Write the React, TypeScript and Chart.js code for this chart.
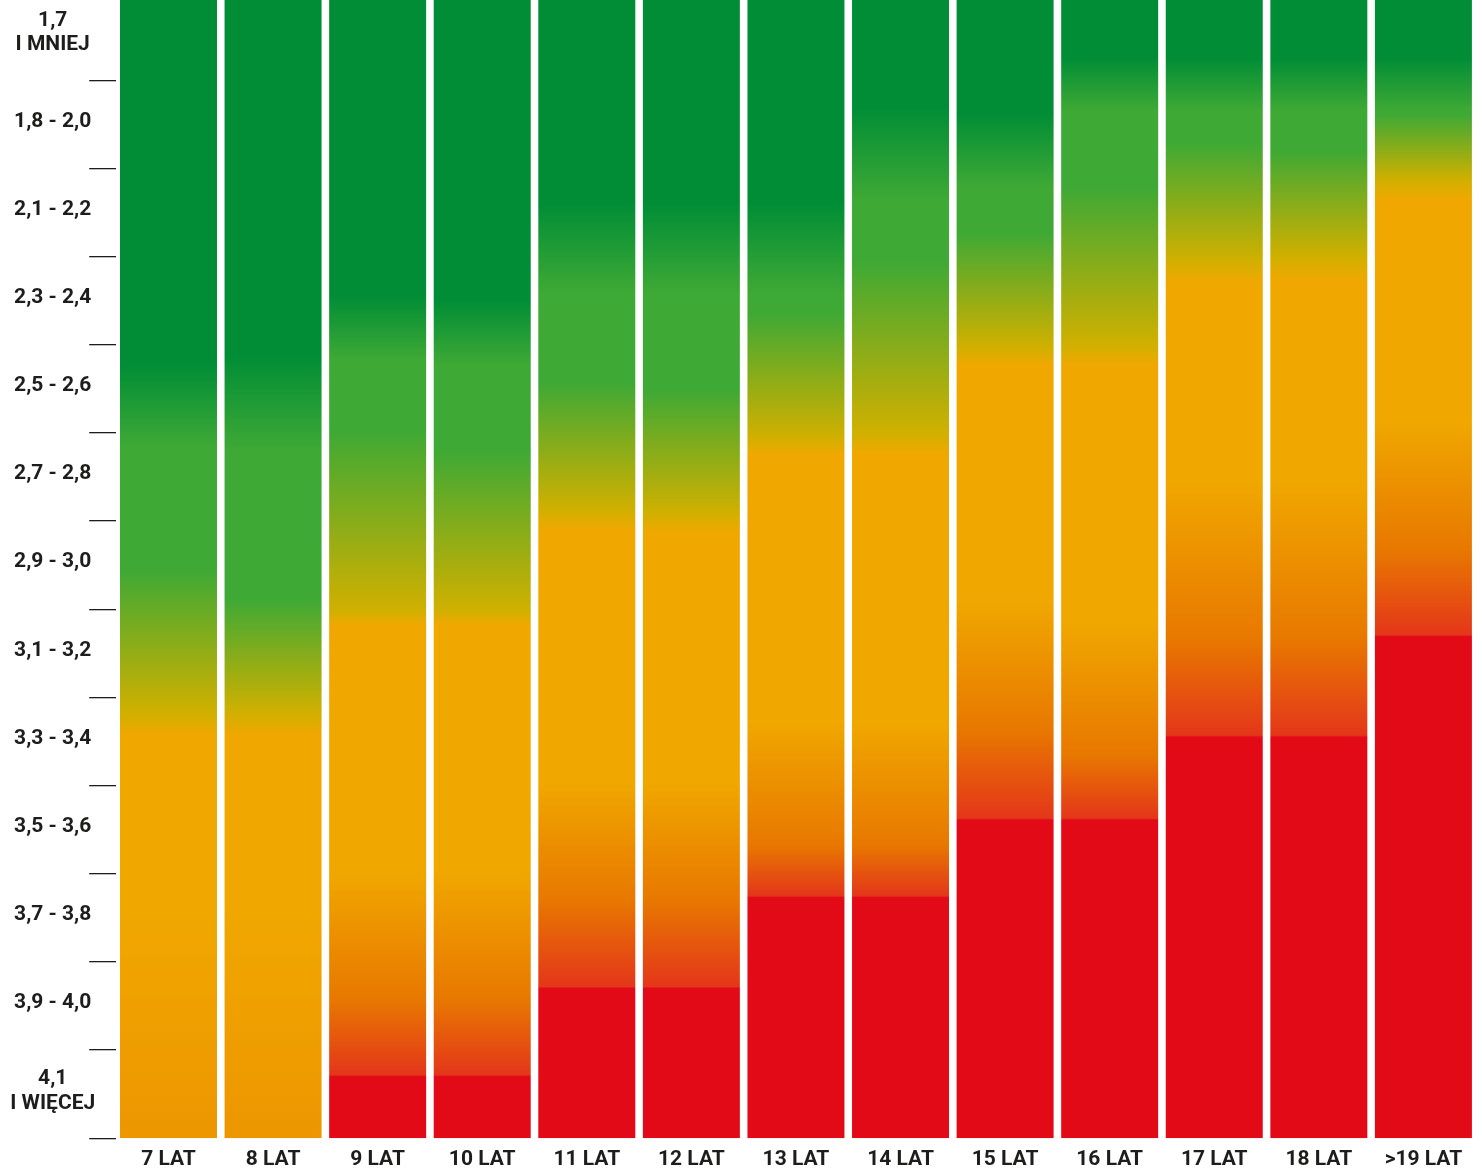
import React, { useEffect, useRef } from 'react';
import { Chart, registerables } from 'chart.js';

Chart.register(...registerables);

// Categories (columns) and rows
const ageLabels = ['7 LAT', '8 LAT', '9 LAT', '10 LAT', '11 LAT', '12 LAT', '13 LAT', '14 LAT', '15 LAT', '16 LAT', '17 LAT', '18 LAT', '>19 LAT'];
const rangeLabels: (string | string[])[] = [
  ['1,7', 'I MNIEJ'],
  '1,8 - 2,0',
  '2,1 - 2,2',
  '2,3 - 2,4',
  '2,5 - 2,6',
  '2,7 - 2,8',
  '2,9 - 3,0',
  '3,1 - 3,2',
  '3,3 - 3,4',
  '3,5 - 3,6',
  '3,7 - 3,8',
  '3,9 - 4,0',
  ['4,1', 'I WIĘCEJ'],
];

// Zone boundaries per column, in row units (0 = top of first row, 13 = bottom of last row)
const darkEnd = [4.21, 4.12, 3.44, 3.49, 2.39, 2.39, 2.39, 1.3, 1.37, 0.74, 0.74, 0.74, 0.74];
const lightStart = [5.16, 5.19, 4.17, 4.23, 3.41, 3.41, 3.41, 2.36, 2.21, 1.34, 1.34, 1.34, 1.34];
const lightEnd = [6.55, 6.89, 4.97, 5.19, 4.43, 4.51, 3.64, 3.04, 2.73, 2.21, 1.71, 1.79, 1.39];
const yellowAt = [8.17, 8.17, 7.01, 7.01, 5.87, 5.91, 5.05, 5.0, 4.03, 4.0, 3.04, 3.0, 2.13];
const orangeStart = [8.43, 8.43, 7.18, 7.18, 6.1, 6.13, 5.25, 5.23, 4.23, 4.23, 3.3, 3.27, 2.36];
const orangeEnd = [10.3, 10.3, 9.96, 9.96, 8.94, 8.94, 8.26, 8.26, 6.89, 7.12, 5.53, 5.53, 4.85];
const deepAt = [17.5, 17.5, 11.43, 11.43, 10.3, 10.3, 9.67, 9.67, 8.37, 8.65, 7.35, 7.35, 6.33];
const redStart = [19, 19, 12.3, 12.3, 11.3, 11.3, 10.27, 10.27, 9.39, 9.39, 8.45, 8.45, 7.31];

const DARK = '#008D36';
const LIGHT = '#3EA935';
const YELLOW = '#D0B000';
const ORANGE = '#F0A800';
const DEEP = '#E87800';
const RED_EDGE = '#E4361A';
const RED = '#E30A17';
const TEXT = '#1d1d1b';
const FONT = 'Roboto, "Noto Sans", sans-serif';

export default function App() {
  const ref = useRef<HTMLCanvasElement>(null);

  useEffect(() => {
    const canvas = ref.current;
    if (!canvas) return;
    const rows = rangeLabels.length;
    const chart = new Chart(canvas, {
      type: 'bar',
      data: {
        labels: ageLabels,
        datasets: [
          {
            data: ageLabels.map(() => [0, rows]) as any,
            backgroundColor: (c: any) => {
              const ch = c.chart;
              const ys = ch.scales && ch.scales.y;
              if (!ch.chartArea || !ys || c.dataIndex === undefined) return ORANGE;
              const i = c.dataIndex;
              const end = Math.max(rows, redStart[i] + 0.5);
              const stops: [number, string][] = [
                [0, DARK],
                [darkEnd[i], DARK],
                [lightStart[i], LIGHT],
                [lightEnd[i], LIGHT],
                [yellowAt[i], YELLOW],
                [orangeStart[i], ORANGE],
                [orangeEnd[i], ORANGE],
                [deepAt[i], DEEP],
                [redStart[i] - 0.02, RED_EDGE],
                [redStart[i], RED],
                [end, RED],
              ];
              const y0 = ys.getPixelForValue(0);
              const y1 = ys.getPixelForValue(end);
              const g = ch.ctx.createLinearGradient(0, y0, 0, y1);
              stops.forEach(([v, col]) => g.addColorStop(Math.min(1, Math.max(0, v / end)), col));
              return g;
            },
            borderWidth: 0,
            barPercentage: 0.9275,
            categoryPercentage: 1,
          },
        ],
      },
      options: {
        animation: false,
        responsive: false,
        maintainAspectRatio: false,
        layout: { padding: { top: 0, left: 0, bottom: 0, right: 6.3 } },
        plugins: { legend: { display: false }, tooltip: { enabled: false } },
        scales: {
          x: {
            type: 'category',
            offset: true,
            grid: { display: false, drawTicks: false },
            border: { display: false },
            ticks: {
              color: TEXT,
              font: { family: FONT, size: 21, weight: 'bold' },
              padding: 9,
              maxRotation: 0,
              autoSkip: false,
            },
            afterFit: (s: any) => {
              s.height = 34.7;
              s.paddingLeft = 0;
              s.paddingRight = 0;
            },
          },
          y: {
            type: 'linear',
            min: 0,
            max: rows,
            reverse: true,
            display: false,
          },
          rows: {
            type: 'category',
            labels: rangeLabels as any,
            position: 'left',
            offset: true,
            grid: {
              offset: true,
              drawOnChartArea: false,
              drawTicks: true,
              tickLength: 27,
              color: TEXT,
              lineWidth: 1.3,
            },
            border: { display: false },
            ticks: {
              color: TEXT,
              font: { family: FONT, size: 21, weight: 'bold', lineHeight: 1.15 },
              crossAlign: 'center',
              padding: -6,
              labelOffset: -3,
              autoSkip: false,
            },
            afterFit: (s: any) => {
              s.width = 116.2;
              s.paddingTop = 0;
              s.paddingBottom = 0;
            },
          },
        } as any,
      },
    });
    return () => chart.destroy();
  }, []);

  return (
    <div style={{ position: 'absolute', left: 0, top: -8, width: 1482, height: 1181 }}>
      <canvas ref={ref} width={1482} height={1181} style={{ display: 'block', width: 1482, height: 1181 }} />
    </div>
  );
}
